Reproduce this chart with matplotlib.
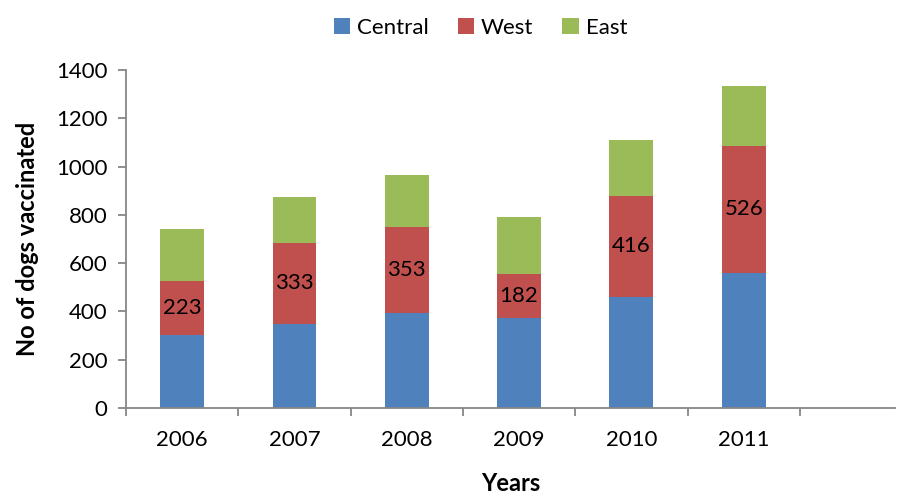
import matplotlib

matplotlib.use("Agg")
import matplotlib.pyplot as plt
import numpy as np

plt.rcParams["font.family"] = ["Lato", "DejaVu Sans"]

years = ["2006", "2007", "2008", "2009", "2010", "2011"]
central = [304, 350, 395, 375, 462, 560]
west = [223, 333, 353, 182, 416, 526]
east = [214, 190, 217, 235, 234, 249]

BLUE = "#4f81bd"
RED = "#c0504d"
GREEN = "#9bbb59"
AXIS = "#868686"

fig = plt.figure(figsize=(8.98, 4.97), dpi=100)
ax = fig.add_axes([0.1403, 0.179, 0.8567, 0.680])

x = np.arange(len(years))
w = 0.39
c = np.array(central)
wv = np.array(west)
ax.bar(x, central, w, color=BLUE, label="Central")
ax.bar(x, west, w, bottom=c, color=RED, label="West")
ax.bar(x, east, w, bottom=c + wv, color=GREEN, label="East")

for xi, base, val in zip(x, central, west):
    ax.text(xi, base + val / 2, str(val), ha="center", va="center", fontsize=16, color="black")

ax.set_ylim(0, 1400)
ax.set_yticks(range(0, 1401, 200))
ax.set_xlim(-0.5, 6.35)

# category boundary ticks, labels at centres
ax.set_xticks(np.arange(-0.5, 6.0, 1.0))
ax.set_xticklabels([])
ax.set_xticks(x, minor=True)
ax.set_xticklabels(years, minor=True)
ax.tick_params(axis="x", which="minor", length=0, pad=16, labelsize=16)
ax.tick_params(axis="x", which="major", length=5.5, width=1.3, color=AXIS, direction="out")
ax.tick_params(axis="y", length=5.5, width=1.3, color=AXIS, labelsize=16, pad=8)

for side in ("top", "right"):
    ax.spines[side].set_visible(False)
for side in ("left", "bottom"):
    ax.spines[side].set_color(AXIS)
    ax.spines[side].set_linewidth(1.3)

ax.set_ylabel("No of dogs vaccinated", fontsize=17, fontweight="bold", labelpad=12)
ax.set_xlabel("Years", fontsize=17, fontweight="bold", labelpad=16)

fig.legend(
    loc="upper center",
    bbox_to_anchor=(0.535, 1.005),
    ncol=3,
    frameon=False,
    fontsize=16,
    handlelength=0.75,
    handleheight=0.75,
    handletextpad=0.3,
    columnspacing=1.3,
)

fig.savefig("out.png", dpi=100)
